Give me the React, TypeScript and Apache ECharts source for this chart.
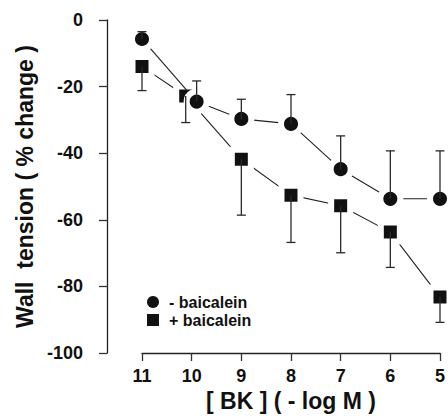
import React, { useEffect, useRef } from "react";
import * as echarts from "echarts";

const xTicks = [11, 10, 9, 8, 7, 6, 5];
const circleConc = [11, 9.9, 9, 8, 7, 6, 5];
const circleMean = [-5.7, -24.5, -29.7, -31.2, -44.8, -53.7, -53.7];
const circleErr = [2.2, 6.2, 5.9, 8.8, 10, 14.4, 14.4];
const squareConc = [11, 10.12, 9, 8, 7, 6, 5];
const squareMean = [-14, -22.8, -41.8, -52.6, -55.8, -63.7, -83.2];
const squareErr = [7.2, 8, 16.8, 14.2, 14.1, 10.6, 7.6];
const seriesNames = ["- baicalein", "+ baicalein"];

const FONT = "'Liberation Sans', Arial, Helvetica, sans-serif";

export default function App() {
  const ref = useRef<HTMLDivElement>(null);
  useEffect(() => {
    if (!ref.current) return;
    const chart = echarts.init(ref.current, null, { renderer: "svg" });
    const circleData = circleConc.map((x, i) => [x, circleMean[i]]);
    const squareData = squareConc.map((x, i) => [x, squareMean[i]]);
    const errData = (conc: number[], mean: number[], err: number[], dir: number) =>
      conc.map((x, i) => [x, mean[i], err[i], dir]);
    const errorRender = (params: any, api: any) => {
      const x = api.value(0);
      const y = api.value(1);
      const e = api.value(2);
      const d = api.value(3);
      const p0 = api.coord([x, y]);
      const p1 = api.coord([x, y + d * e]);
      const style = { stroke: "#2a2a2a", lineWidth: 1.3 };
      return {
        type: "group",
        children: [
          { type: "line", shape: { x1: p0[0], y1: p0[1], x2: p1[0], y2: p1[1] }, style },
          { type: "line", shape: { x1: p1[0] - 4.5, y1: p1[1], x2: p1[0] + 4.5, y2: p1[1] }, style },
        ],
      };
    };
    chart.setOption({
      animation: false,
      backgroundColor: "#ffffff",
      textStyle: { fontFamily: FONT },
      grid: { left: 142, right: 7, top: 20, bottom: 65 },
      legend: {
        left: 142,
        top: 289,
        orient: "vertical",
        itemWidth: 12,
        itemHeight: 12,
        itemGap: 2,
        data: [
          { name: seriesNames[0], icon: "circle" },
          { name: seriesNames[1], icon: "rect" },
        ],
        itemStyle: { borderWidth: 0, color: "#111" },
        textStyle: { fontFamily: FONT, fontSize: 16, fontWeight: "bold", color: "#111", padding: [0, 0, 0, 5] },
      },
      xAxis: {
        type: "value",
        min: 5,
        max: 11,
        interval: 1,
        inverse: true,
        name: "[ BK ] ( - log M )",
        nameLocation: "middle",
        nameGap: 36,
        nameTextStyle: { fontFamily: FONT, fontSize: 23, fontWeight: "bold", color: "#111" },
        axisLine: { show: true, onZero: false, lineStyle: { color: "#222", width: 1.3 } },
        axisTick: { show: true, inside: false, length: 8, lineStyle: { color: "#333", width: 1.3 } },
        axisLabel: {
          margin: 14,
          fontFamily: FONT,
          fontSize: 18,
          fontWeight: "bold",
          color: "#111",
          formatter: (v: number) => (xTicks.includes(v) ? String(v) : ""),
        },
        splitLine: { show: false },
      },
      yAxis: {
        type: "value",
        min: -100,
        max: 0,
        interval: 20,
        offset: 35,
        name: "Wall  tension ( % change )",
        nameLocation: "middle",
        nameGap: 68,
        nameTextStyle: { fontFamily: FONT, fontSize: 23, fontWeight: "bold", color: "#111" },
        axisLine: { show: true, onZero: false, lineStyle: { color: "#222", width: 1.3 } },
        axisTick: { show: true, inside: false, length: 8, lineStyle: { color: "#333", width: 1.3 } },
        axisLabel: { margin: 24, fontFamily: FONT, fontSize: 18, fontWeight: "bold", color: "#111" },
        splitLine: { show: false },
      },
      series: [
        {
          name: seriesNames[1],
          type: "line",
          data: squareData,
          symbol: "rect",
          symbolSize: 19,
          showAllSymbol: true,
          clip: false,
          lineStyle: { color: "#222", width: 1.1 },
          itemStyle: { color: "#111", borderColor: "#fff", borderWidth: 6 },
          z: 2,
        },
        {
          name: seriesNames[0],
          type: "line",
          data: circleData,
          symbol: "circle",
          symbolSize: 20,
          showAllSymbol: true,
          clip: false,
          lineStyle: { color: "#222", width: 1.1 },
          itemStyle: { color: "#111", borderColor: "#fff", borderWidth: 6 },
          z: 3,
        },
        {
          type: "custom",
          renderItem: errorRender,
          data: errData(circleConc, circleMean, circleErr, 1),
          encode: { x: 0, y: 1 },
          z: 4,
          silent: true,
        },
        {
          type: "custom",
          renderItem: errorRender,
          data: errData(squareConc, squareMean, squareErr, -1),
          encode: { x: 0, y: 1 },
          z: 4,
          silent: true,
        },
      ],
    });
    return () => chart.dispose();
  }, []);
  return (
    <div
      ref={ref}
      style={{ position: "fixed", left: 0, top: 0, width: 448, height: 418, background: "#fff" }}
    />
  );
}
